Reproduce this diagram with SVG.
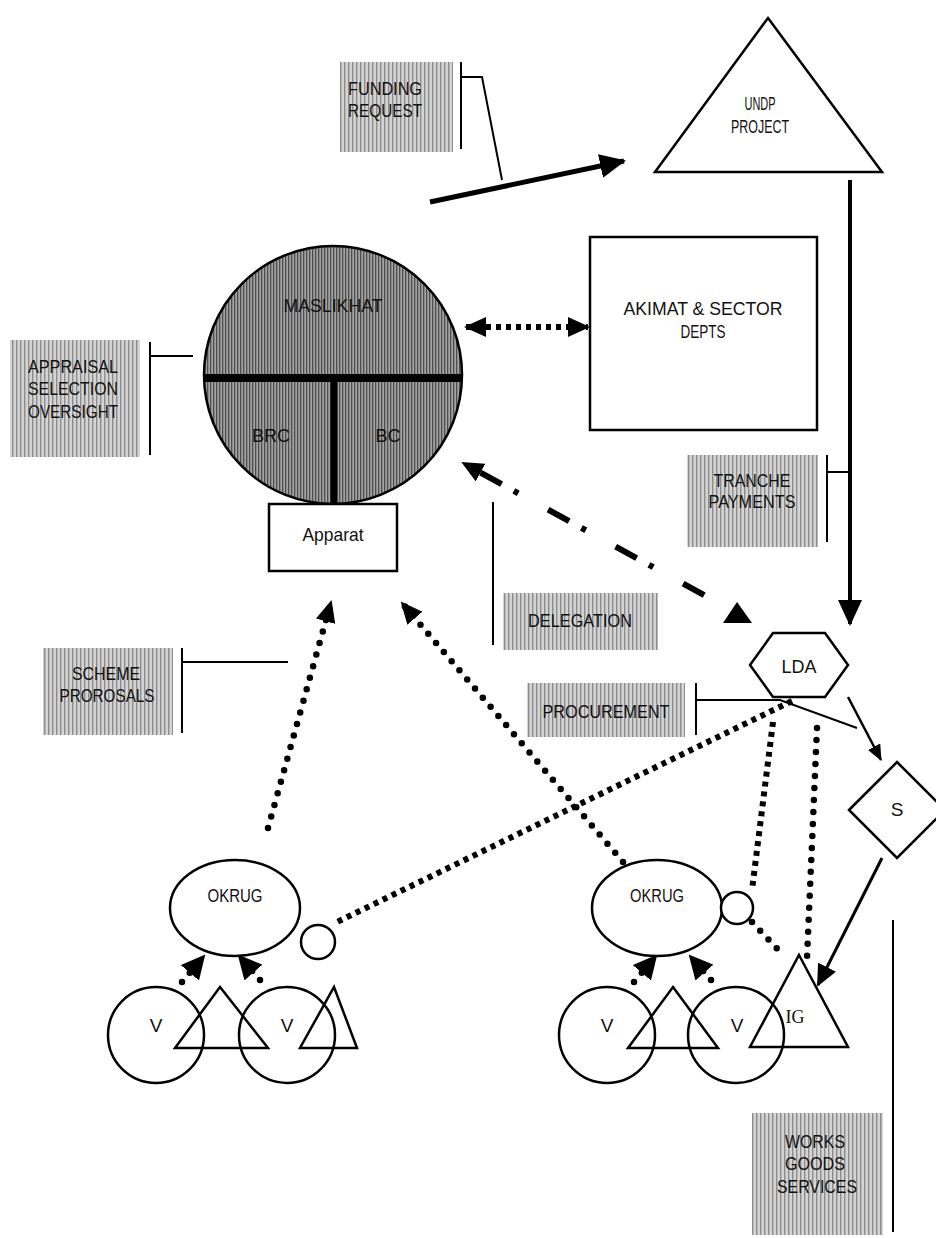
<svg xmlns="http://www.w3.org/2000/svg" width="936" height="1238" viewBox="0 0 936 1238">
<style>
.t{font-family:"Liberation Sans",Arial,sans-serif;font-size:19px;fill:#111;text-anchor:middle}
.lbl{font-family:"Liberation Sans",Arial,sans-serif;font-size:18px;fill:#111;text-anchor:middle}
.ln{fill:none;stroke:#000;stroke-width:2}
.sh{fill:#fff;stroke:#000;stroke-width:2.5}
.box{fill:url(#lt)}
.sq{fill:none;stroke:#000;stroke-width:6;stroke-dasharray:5 5}
.rd{fill:none;stroke:#000;stroke-width:6.5;stroke-linecap:round;stroke-dasharray:0 12}
</style>
<defs>
<pattern id="lt" width="4" height="4" patternUnits="userSpaceOnUse"><rect width="4" height="4" fill="#d4d4d4"/><rect width="1.4" height="4" fill="#8c8c8c"/></pattern>
<pattern id="dk" width="3" height="3" patternUnits="userSpaceOnUse"><rect width="3" height="3" fill="#a2a2a2"/><rect width="1.3" height="3" fill="#4e4e4e"/></pattern>
<marker id="big" markerUnits="userSpaceOnUse" markerWidth="26" markerHeight="24" refX="24" refY="12" orient="auto"><path d="M0,0 L26,12 L0,24 z" fill="#000"/></marker>
<marker id="mid" markerUnits="userSpaceOnUse" markerWidth="22" markerHeight="20" refX="20" refY="10" orient="auto-start-reverse"><path d="M0,0 L22,10 L0,20 z" fill="#000"/></marker>
<marker id="vh" markerUnits="userSpaceOnUse" markerWidth="24" markerHeight="24" refX="22" refY="12" orient="auto"><path d="M0,0 L24,12 L0,24 z" fill="#000"/></marker>
<marker id="sm" markerUnits="userSpaceOnUse" markerWidth="16" markerHeight="14" refX="15" refY="7" orient="auto"><path d="M0,0 L16,7 L0,14 z" fill="#000"/></marker>
</defs>

<g id="connectors">
  <path class="ln" d="M461,62 V149 M461,77 H482 L502,180"/>
  <path class="ln" d="M150,342 V455 M150,356 H193"/>
  <path class="ln" d="M827,455 V542 M827,472 H850"/>
  <path class="ln" d="M493,502 V645"/>
  <path class="ln" d="M182,648 V733 M182,662 H288"/>
  <path class="ln" d="M696,683 V735 M696,700 H780 L857,728"/>
  <path class="ln" d="M893,920 V1232"/>
  <line x1="430" y1="202" x2="624" y2="161" stroke="#000" stroke-width="5" marker-end="url(#big)"/>
  <line x1="850" y1="180" x2="850" y2="624" stroke="#000" stroke-width="4" marker-end="url(#big)"/>
  <line x1="466" y1="327" x2="588" y2="327" class="sq" marker-start="url(#mid)" marker-end="url(#mid)"/>
  <line x1="463" y1="463" x2="715" y2="601" fill="none" stroke="#000" stroke-width="6" stroke-dasharray="0 20 24 14 5 14" marker-start="url(#mid)"/>
  <polygon points="737,602 723,623 752,623" fill="#000"/>
  <line x1="268" y1="828" x2="331" y2="602" class="rd" marker-end="url(#mid)"/>
  <line x1="623" y1="862" x2="402" y2="603" class="rd" marker-end="url(#mid)"/>
  <line x1="792" y1="701" x2="337" y2="922" class="sq" stroke-width="7"/>
  <line x1="773" y1="722" x2="752" y2="890" class="sq" stroke-width="7"/>
  <line x1="817" y1="728" x2="807" y2="958" class="rd" stroke-dasharray="0 10"/>
  <line x1="752" y1="922" x2="784" y2="956" class="rd"/>
  <line x1="848" y1="697" x2="881" y2="760" stroke="#000" stroke-width="2.5" marker-end="url(#sm)"/>
  <line x1="882" y1="858" x2="818" y2="985" stroke="#000" stroke-width="3" marker-end="url(#mid)"/>
  <line x1="182" y1="982" x2="204" y2="956" class="rd" stroke-dasharray="0 9" marker-end="url(#vh)"/>
  <line x1="260" y1="980" x2="239" y2="956" class="rd" stroke-dasharray="0 9" marker-end="url(#vh)"/>
  <line x1="634" y1="982" x2="656" y2="956" class="rd" stroke-dasharray="0 9" marker-end="url(#vh)"/>
  <line x1="711" y1="980" x2="690" y2="956" class="rd" stroke-dasharray="0 9" marker-end="url(#vh)"/>
</g>

<g id="funding-request"><rect class="box" x="340" y="62" width="113" height="90"/><text class="lbl" x="385" y="95" textLength="74" lengthAdjust="spacingAndGlyphs">FUNDING</text><text class="lbl" x="385" y="117" textLength="74" lengthAdjust="spacingAndGlyphs">REQUEST</text></g>

<g id="undp-project"><polygon class="sh" points="768,18 882,172 655,172"/><text class="t" x="760" y="110" textLength="31" lengthAdjust="spacingAndGlyphs">UNDP</text><text class="t" x="760" y="133" textLength="58" lengthAdjust="spacingAndGlyphs">PROJECT</text></g>

<g id="maslikhat">
  <circle cx="333" cy="375" r="129" fill="url(#dk)" stroke="#000" stroke-width="2.5"/>
  <line x1="205" y1="378" x2="461" y2="378" stroke="#000" stroke-width="8"/>
  <line x1="334" y1="378" x2="334" y2="504" stroke="#000" stroke-width="7"/>
  <text class="lbl" x="333" y="312" textLength="99" lengthAdjust="spacingAndGlyphs">MASLIKHAT</text>
  <text class="lbl" x="271" y="442" textLength="38" lengthAdjust="spacingAndGlyphs">BRC</text>
  <text class="lbl" x="388" y="442" textLength="25" lengthAdjust="spacingAndGlyphs">BC</text>
</g>

<g id="apparat"><rect class="sh" x="269" y="504" width="128" height="67"/><text class="t" x="333" y="541" textLength="61" lengthAdjust="spacingAndGlyphs">Apparat</text></g>

<g id="akimat"><rect class="sh" x="590" y="237" width="227" height="193" stroke-width="3"/><text class="t" x="703" y="315" textLength="159" lengthAdjust="spacingAndGlyphs">AKIMAT &amp; SECTOR</text><text class="t" x="703" y="338" textLength="45" lengthAdjust="spacingAndGlyphs">DEPTS</text></g>

<g id="appraisal"><rect class="box" x="10" y="340" width="130" height="117"/><text class="lbl" x="73" y="373" textLength="90" lengthAdjust="spacingAndGlyphs">APPRAISAL</text><text class="lbl" x="73" y="395" textLength="90" lengthAdjust="spacingAndGlyphs">SELECTION</text><text class="lbl" x="73" y="418" textLength="90" lengthAdjust="spacingAndGlyphs">OVERSIGHT</text></g>

<g id="tranche"><rect class="box" x="687" y="455" width="131" height="92"/><text class="lbl" x="752" y="487" textLength="77" lengthAdjust="spacingAndGlyphs">TRANCHE</text><text class="lbl" x="752" y="508" textLength="87" lengthAdjust="spacingAndGlyphs">PAYMENTS</text></g>

<g id="delegation"><rect class="box" x="503" y="593" width="155" height="57"/><text class="lbl" x="580" y="627" textLength="104" lengthAdjust="spacingAndGlyphs">DELEGATION</text></g>

<g id="procurement"><rect class="box" x="527" y="683" width="158" height="54"/><text class="lbl" x="606" y="718" textLength="127" lengthAdjust="spacingAndGlyphs">PROCUREMENT</text></g>

<g id="scheme"><rect class="box" x="43" y="648" width="130" height="87"/><text class="lbl" x="106" y="680" textLength="68" lengthAdjust="spacingAndGlyphs">SCHEME</text><text class="lbl" x="107" y="702" textLength="95" lengthAdjust="spacingAndGlyphs">PROROSALS</text></g>

<g id="lda"><polygon class="sh" points="750,665 773,633 825,633 848,665 825,697 773,697"/><text class="t" x="799" y="673" textLength="35" lengthAdjust="spacingAndGlyphs">LDA</text></g>

<g id="s"><polygon class="sh" points="849,810 897,762 945,810 897,858"/><text class="t" x="897" y="816">S</text></g>

<g id="works"><rect class="box" x="752" y="1113" width="131" height="122"/><text class="lbl" x="815" y="1148" textLength="60" lengthAdjust="spacingAndGlyphs">WORKS</text><text class="lbl" x="815" y="1170" textLength="60" lengthAdjust="spacingAndGlyphs">GOODS</text><text class="lbl" x="817" y="1193" textLength="80" lengthAdjust="spacingAndGlyphs">SERVICES</text></g>

<g id="okrug-left">
  <ellipse class="sh" cx="235" cy="908" rx="65" ry="48"/><text class="t" x="235" y="902" font-size="17" textLength="55" lengthAdjust="spacingAndGlyphs">OKRUG</text>
  <circle class="sh" cx="318" cy="942" r="17"/>
</g>
<g id="village-left">
  <circle cx="156" cy="1035" r="48" fill="none" stroke="#000" stroke-width="2.5"/>
  <circle cx="287" cy="1035" r="48" fill="none" stroke="#000" stroke-width="2.5"/>
  <polygon points="220,987 268,1048 175,1048" fill="none" stroke="#000" stroke-width="2.5"/>
  <polygon points="334,987 357,1048 300,1048" fill="none" stroke="#000" stroke-width="2.5"/>
  <text class="t" x="156" y="1032">V</text><text class="t" x="287" y="1032">V</text>
</g>

<g id="okrug-right">
  <ellipse class="sh" cx="657" cy="908" rx="65" ry="48"/><text class="t" x="657" y="902" font-size="17" textLength="54" lengthAdjust="spacingAndGlyphs">OKRUG</text>
  <circle class="sh" cx="737" cy="908" r="16"/>
</g>
<g id="village-right">
  <circle cx="607" cy="1035" r="48" fill="none" stroke="#000" stroke-width="2.5"/>
  <circle cx="736" cy="1035" r="48" fill="none" stroke="#000" stroke-width="2.5"/>
  <polygon points="673,987 718,1048 628,1048" fill="none" stroke="#000" stroke-width="2.5"/>
  <text class="t" x="607" y="1032">V</text><text class="t" x="737" y="1032">V</text>
</g>
<g id="ig"><polygon points="799,955 848,1047 750,1047" fill="none" stroke="#000" stroke-width="2.5"/><text x="795" y="1023" font-family="Liberation Serif,serif" font-size="18" text-anchor="middle" fill="#111">IG</text></g>
</svg>
